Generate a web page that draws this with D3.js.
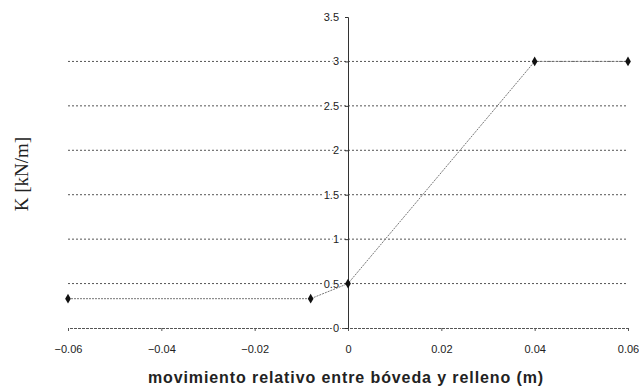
<!DOCTYPE html>
<html>
<head>
<meta charset="utf-8">
<script src="https://cdn.jsdelivr.net/npm/d3@7"></script>
<style>
  body { margin: 0; background: #fff; }
  svg text { font-family: "Liberation Sans", Arial, sans-serif; }
</style>
</head>
<body>
<div id="chart"></div>
<script>
// K vs relative movement between vault and fill
const xValues = [-0.06, -0.008, 0, 0.04, 0.06];
const kValues = [0.33, 0.33, 0.5, 3, 3];
const xTicks = [-0.06, -0.04, -0.02, 0, 0.02, 0.04, 0.06];
const yTicks = [0, 0.5, 1, 1.5, 2, 2.5, 3, 3.5];

const width = 639, height = 388;
const margin = {top: 17, right: 11, bottom: 60, left: 68};

const svg = d3.select("#chart").append("svg")
    .attr("width", width)
    .attr("height", height);

const x = d3.scaleLinear().domain([-0.06, 0.06]).range([margin.left, width - margin.right]);
const y = d3.scaleLinear().domain([0, 3.5]).range([height - margin.bottom, margin.top]);

// gridlines
svg.append("g")
    .selectAll("line")
    .data(yTicks.filter(d => d > 0 && d < 3.5))
    .join("line")
    .attr("x1", x(-0.06)).attr("x2", x(0.06))
    .attr("y1", d => y(d)).attr("y2", d => y(d))
    .attr("stroke", "#555")
    .attr("stroke-width", 1)
    .attr("stroke-dasharray", "2,2");

// x axis on K = 0
const xAxis = svg.append("g")
    .attr("transform", `translate(0,${y(0)})`)
    .call(d3.axisBottom(x).tickValues(xTicks).tickSize(3).tickFormat(d3.format(".2f")));
xAxis.select(".domain").attr("stroke", "#555").attr("stroke-dasharray", "3,1");
xAxis.selectAll(".tick line").attr("stroke", "#555");
xAxis.selectAll(".tick text")
    .attr("dy", "1.75em")
    .style("font-size", "11px")
    .attr("fill", "#222")
    .text(d => d === 0 ? "0" : d3.format(".2f")(d));

// y axis at x = 0
const yAxis = svg.append("g")
    .attr("transform", `translate(${x(0)},0)`)
    .call(d3.axisLeft(y).tickValues(yTicks).tickSize(3).tickFormat(d => d));
yAxis.select(".domain").attr("stroke", "#333");
yAxis.selectAll(".tick line").attr("stroke", "#333");
yAxis.selectAll(".tick text")
    .attr("x", -9)
    .style("font-size", "11px")
    .attr("fill", "#222")
    .style("paint-order", "stroke")
    .style("stroke", "#fff")
    .style("stroke-width", 3);

// series line
const line = d3.line().x((d, i) => x(xValues[i])).y(d => y(d));
svg.append("path")
    .datum(kValues)
    .attr("fill", "none")
    .attr("stroke", "#777")
    .attr("stroke-width", 1)
    .attr("stroke-dasharray", "2,1")
    .attr("d", line);

// markers
svg.append("g")
    .selectAll("path")
    .data(kValues)
    .join("path")
    .attr("transform", (d, i) => `translate(${x(xValues[i])},${y(d)})`)
    .attr("d", d3.symbol().type(d3.symbolDiamond).size(28))
    .attr("fill", "#111");

// axis titles
svg.append("text")
    .attr("x", 346)
    .attr("y", 383)
    .attr("text-anchor", "middle")
    .style("font-size", "16px")
    .style("font-weight", "bold")
    .style("letter-spacing", "0.9px")
    .attr("fill", "#222")
    .text("movimiento relativo entre bóveda y relleno (m)");

svg.append("text")
    .attr("transform", `translate(28,174) rotate(-90)`)
    .attr("text-anchor", "middle")
    .style("font-family", "'Liberation Serif', 'Times New Roman', serif")
    .style("font-size", "19px")
    .attr("fill", "#222")
    .text("K [kN/m]");
</script>
</body>
</html>
